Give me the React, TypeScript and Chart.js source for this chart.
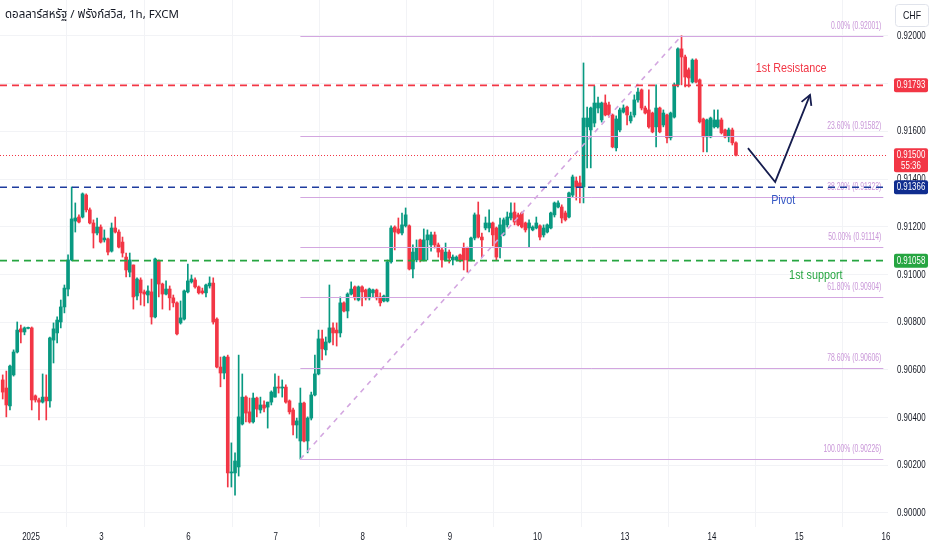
import React, { useEffect, useRef } from "react";
import { Chart, registerables } from "chart.js";
Chart.register(...registerables);

// ---------- data (hourly candles, USD/CHF) ----------
const opens = [
  0.90558,0.90524,0.90449,0.90579,0.90675,0.90772,0.90759,0.90774,0.90776,0.90491,
  0.90474,0.90465,0.90486,0.90470,0.90725,0.90755,0.90801,0.90864,0.90939,0.91061,
  0.91224,0.91241,0.91241,0.91333,0.91271,0.91216,0.91174,0.91199,0.91145,0.91149,
  0.91098,0.91195,0.91178,0.91136,0.91073,0.91010,0.91040,0.90910,0.90977,0.90927,
  0.90914,0.90927,0.90822,0.91057,0.90960,0.90918,0.90939,0.90902,0.90881,0.90797,
  0.90813,0.90927,0.90969,0.90977,0.90948,0.90931,0.90923,0.90952,0.90964,0.90813,
  0.90612,0.90587,0.90654,0.90168,0.90168,0.90193,0.90373,0.90486,0.90424,0.90382,
  0.90482,0.90432,0.90453,0.90444,0.90465,0.90486,0.90528,0.90524,0.90528,0.90470,
  0.90432,0.90369,0.90302,0.90461,0.90302,0.90398,0.90495,0.90583,0.90730,0.90684,
  0.90717,0.90776,0.90767,0.90755,0.90881,0.90847,0.90918,0.90948,0.90893,0.90948,
  0.90935,0.90902,0.90923,0.90935,0.90906,0.90889,0.90889,0.91053,0.91199,0.91191,
  0.91174,0.91204,0.91204,0.91023,0.91061,0.91145,0.91061,0.91145,0.91124,0.91166,
  0.91124,0.91103,0.91061,0.91094,0.91061,0.91061,0.91082,0.91111,0.91111,0.91061,
  0.91153,0.91250,0.91157,0.91195,0.91195,0.91216,0.91195,0.91115,0.91166,0.91208,
  0.91237,0.91262,0.91250,0.91258,0.91216,0.91195,0.91187,0.91195,0.91204,0.91166,
  0.91178,0.91195,0.91250,0.91283,0.91283,0.91258,0.91241,0.91333,0.91392,0.91384,
  0.91367,0.91619,0.91606,0.91635,0.91698,0.91648,0.91719,0.91711,0.91669,0.91531,
  0.91606,0.91681,0.91702,0.91644,0.91669,0.91732,0.91774,0.91698,0.91690,0.91677,
  0.91619,0.91698,0.91627,0.91669,0.91573,0.91660,0.91795,0.91946,0.91912,0.91858,
  0.91807,0.91899,0.91816,0.91652,0.91577,0.91577,0.91619,0.91619,0.91648,0.91606,
  0.91577,0.91606,0.91552,
];
const highs = [
  0.90579,0.90595,0.90620,0.90684,0.90801,0.90788,0.90780,0.90780,0.90780,0.90495,
  0.90482,0.90583,0.90579,0.90738,0.90797,0.90822,0.90893,0.90956,0.91082,0.91367,
  0.91300,0.91250,0.91342,0.91338,0.91279,0.91229,0.91237,0.91208,0.91187,0.91153,
  0.91216,0.91241,0.91187,0.91157,0.91090,0.91090,0.91040,0.90986,0.90986,0.90935,
  0.90952,0.90981,0.91069,0.91061,0.90964,0.90973,0.90952,0.90914,0.90885,0.90889,
  0.90935,0.91044,0.90998,0.90986,0.90952,0.90943,0.90960,0.90990,0.90986,0.90818,
  0.90654,0.90658,0.90662,0.90294,0.90252,0.90662,0.90583,0.90491,0.90482,0.90503,
  0.90486,0.90486,0.90470,0.90465,0.90512,0.90583,0.90574,0.90558,0.90537,0.90474,
  0.90440,0.90398,0.90524,0.90465,0.90403,0.90507,0.90662,0.90767,0.90767,0.90738,
  0.90956,0.90797,0.90797,0.90906,0.90885,0.90923,0.90969,0.90952,0.90952,0.90952,
  0.90939,0.90943,0.90939,0.90939,0.90923,0.90914,0.91061,0.91204,0.91204,0.91237,
  0.91258,0.91279,0.91208,0.91124,0.91145,0.91149,0.91191,0.91187,0.91178,0.91178,
  0.91132,0.91111,0.91132,0.91103,0.91082,0.91078,0.91086,0.91132,0.91115,0.91157,
  0.91258,0.91304,0.91174,0.91241,0.91271,0.91220,0.91199,0.91237,0.91237,0.91262,
  0.91300,0.91300,0.91258,0.91262,0.91220,0.91229,0.91204,0.91241,0.91208,0.91208,
  0.91212,0.91262,0.91304,0.91309,0.91292,0.91266,0.91346,0.91417,0.91409,0.91413,
  0.91887,0.91702,0.91702,0.91790,0.91744,0.91723,0.91753,0.91723,0.91673,0.91665,
  0.91698,0.91711,0.91706,0.91681,0.91753,0.91782,0.91778,0.91706,0.91774,0.91681,
  0.91795,0.91702,0.91690,0.91673,0.91681,0.91803,0.91950,0.92001,0.91920,0.91866,
  0.91904,0.91904,0.91820,0.91656,0.91652,0.91660,0.91690,0.91690,0.91656,0.91610,
  0.91614,0.91614,0.91556,
];
const lows = [
  0.90478,0.90403,0.90432,0.90574,0.90671,0.90713,0.90747,0.90772,0.90432,0.90465,
  0.90390,0.90461,0.90390,0.90444,0.90629,0.90713,0.90776,0.90839,0.90910,0.91057,
  0.91178,0.91216,0.91237,0.91262,0.91212,0.91111,0.91166,0.91132,0.91136,0.91082,
  0.91094,0.91174,0.91111,0.91073,0.90990,0.90990,0.90855,0.90893,0.90872,0.90868,
  0.90881,0.90792,0.90818,0.90906,0.90855,0.90914,0.90851,0.90864,0.90747,0.90792,
  0.90809,0.90923,0.90964,0.90943,0.90918,0.90918,0.90906,0.90943,0.90792,0.90608,
  0.90529,0.90562,0.90109,0.90109,0.90075,0.90155,0.90369,0.90382,0.90377,0.90377,
  0.90403,0.90419,0.90424,0.90356,0.90453,0.90486,0.90503,0.90486,0.90461,0.90415,
  0.90327,0.90314,0.90226,0.90298,0.90252,0.90390,0.90491,0.90579,0.90642,0.90662,
  0.90713,0.90705,0.90700,0.90738,0.90843,0.90818,0.90914,0.90893,0.90889,0.90868,
  0.90893,0.90893,0.90906,0.90893,0.90868,0.90885,0.90885,0.91048,0.91103,0.91170,
  0.91166,0.91199,0.91019,0.90986,0.91053,0.91053,0.91057,0.91061,0.91098,0.91111,
  0.91073,0.91031,0.91057,0.91048,0.91040,0.91057,0.91053,0.91019,0.91010,0.91057,
  0.91145,0.91153,0.91073,0.91187,0.91178,0.91120,0.91061,0.91069,0.91162,0.91199,
  0.91229,0.91208,0.91204,0.91195,0.91178,0.91115,0.91183,0.91191,0.91145,0.91157,
  0.91174,0.91191,0.91241,0.91279,0.91216,0.91224,0.91237,0.91325,0.91312,0.91300,
  0.91300,0.91447,0.91447,0.91619,0.91677,0.91639,0.91665,0.91660,0.91531,0.91518,
  0.91598,0.91677,0.91627,0.91635,0.91660,0.91723,0.91690,0.91673,0.91614,0.91594,
  0.91535,0.91594,0.91619,0.91552,0.91564,0.91656,0.91786,0.91795,0.91786,0.91786,
  0.91803,0.91803,0.91635,0.91514,0.91514,0.91573,0.91614,0.91614,0.91589,0.91573,
  0.91556,0.91543,0.91497,
];
const closes = [
  0.90507,0.90453,0.90616,0.90675,0.90767,0.90759,0.90776,0.90776,0.90474,0.90474,
  0.90465,0.90486,0.90470,0.90734,0.90772,0.90809,0.90864,0.90943,0.91061,0.91233,
  0.91237,0.91220,0.91338,0.91271,0.91216,0.91174,0.91199,0.91136,0.91153,0.91094,
  0.91195,0.91178,0.91115,0.91090,0.91019,0.91061,0.90906,0.90981,0.90923,0.90918,
  0.90931,0.90822,0.91065,0.90960,0.90918,0.90939,0.90902,0.90881,0.90751,0.90818,
  0.90931,0.90973,0.90981,0.90948,0.90923,0.90923,0.90956,0.90964,0.90801,0.90612,
  0.90587,0.90654,0.90168,0.90172,0.90218,0.90403,0.90486,0.90419,0.90382,0.90482,
  0.90436,0.90453,0.90440,0.90465,0.90507,0.90528,0.90524,0.90528,0.90465,0.90424,
  0.90369,0.90386,0.90461,0.90302,0.90398,0.90495,0.90583,0.90730,0.90688,0.90717,
  0.90776,0.90755,0.90755,0.90881,0.90847,0.90918,0.90939,0.90902,0.90948,0.90927,
  0.90902,0.90939,0.90935,0.90902,0.90881,0.90910,0.91053,0.91195,0.91178,0.91174,
  0.91208,0.91250,0.91023,0.91094,0.91111,0.91061,0.91145,0.91166,0.91166,0.91124,
  0.91094,0.91061,0.91094,0.91069,0.91073,0.91073,0.91061,0.91061,0.91061,0.91153,
  0.91250,0.91157,0.91145,0.91216,0.91216,0.91166,0.91073,0.91208,0.91229,0.91241,
  0.91258,0.91220,0.91208,0.91199,0.91187,0.91216,0.91199,0.91216,0.91157,0.91195,
  0.91208,0.91258,0.91300,0.91300,0.91237,0.91229,0.91342,0.91409,0.91367,0.91367,
  0.91656,0.91656,0.91698,0.91719,0.91719,0.91719,0.91669,0.91669,0.91535,0.91652,
  0.91690,0.91698,0.91669,0.91665,0.91732,0.91765,0.91698,0.91677,0.91619,0.91598,
  0.91698,0.91598,0.91677,0.91573,0.91677,0.91795,0.91946,0.91912,0.91828,0.91824,
  0.91899,0.91807,0.91640,0.91577,0.91648,0.91656,0.91648,0.91648,0.91594,0.91577,
  0.91606,0.91552,0.91500,
];

// time axis: bar index where each day label sits
const dayTickIndex = [7.8, 27.2, 51.2, 75.2, 99.2, 123.2, 147.3, 171.4, 195.4, 219.4, 243.3];
const dayTickLabels = ["2025", "3", "6", "7", "8", "9", "10", "13", "14", "15", "16"];
const priceTicks = [0.9, 0.902, 0.904, 0.906, 0.908, 0.91, 0.912, 0.914, 0.916, 0.918, 0.92];

// drawn levels
const resistancePrice = 0.91793;
const pivotPrice = 0.91366;
const supportPrice = 0.91058;
const lastPrice = 0.915;
const countdown = "55:36";

// fibonacci retracement
const fibRatios = ["0.00%", "23.60%", "38.20%", "50.00%", "61.80%", "78.60%", "100.00%"];
const fibPrices = [0.92001, 0.91582, 0.91323, 0.91114, 0.90904, 0.90606, 0.90226];
const fibFromIndex = 82;
const fibToIndex = 242.6;
const fibTrendIndex = [82, 187];
const fibTrendPrice = [0.90226, 0.92001];

// projected path arrow
const arrowIndex = [205.3, 212.8, 222.4];
const arrowPrice = [0.9153, 0.91388, 0.91753];

// annotation texts
const noteTexts = ["1st Resistance", "Pivot", "1st support"];
const noteIndex = [217.2, 215, 224];
const notePrice = [0.91866, 0.91312, 0.90998];

const title = "ดอลลาร์สหรัฐ / ฟรังก์สวิส, 1h, FXCM";
const currency = "CHF";

// ---------- styles ----------
const UP = "#089981";
const DOWN = "#f23645";
const PIVOT = "#1f3c9e";
const PIVOT_BOX = "#102d8f";
const SUPPORT = "#26a541";
const FIB = "#d3a6e0";
const FIB_TEXT = "#c996d8";
const ARROW = "#161d4f";
const GRID = "#f2f3f6";
const TEXT = "#131722";
const FONT = "'Liberation Sans', Arial, sans-serif";
const TITLE_FONT = "'Noto Sans Thai', 'Noto Sans', 'DejaVu Sans', sans-serif";
const SQUEEZE = 0.72;

const X_MIN = -0.744;
const X_MAX = 243.88;
const Y_MIN = 0.899413;
const Y_MAX = 0.921509;

function narrowText(ctx: any, t: string, x: number, y: number, align: string, sx: number) {
  ctx.save();
  ctx.translate(x, y);
  ctx.scale(sx, 1);
  ctx.textAlign = align;
  ctx.fillText(t, 0, 0);
  ctx.restore();
}

const overlay = {
  id: "overlay",
  afterDatasetsDraw(chart: any) {
    const { ctx, chartArea: a } = chart;
    const xs = chart.scales.x;
    const ys = chart.scales.y;
    const X = (v: number) => xs.getPixelForValue(v);
    const Y = (v: number) => ys.getPixelForValue(v);
    const hline = (x0: number, x1: number, yy: number, color: string, w: number, dash: number[]) => {
      ctx.beginPath();
      ctx.setLineDash(dash);
      ctx.strokeStyle = color;
      ctx.lineWidth = w;
      ctx.moveTo(x0, yy);
      ctx.lineTo(x1, yy);
      ctx.stroke();
      ctx.setLineDash([]);
    };
    ctx.save();
    ctx.beginPath();
    ctx.rect(a.left, a.top, a.right - a.left, a.bottom - a.top);
    ctx.clip();

    // last price dotted
    hline(a.left, a.right, Math.round(Y(lastPrice)) + 0.5, DOWN, 1, [1, 2]);

    // fib levels
    const fx0 = X(fibFromIndex);
    const fx1 = X(fibToIndex);
    ctx.font = `10px ${FONT}`;
    ctx.textBaseline = "middle";
    fibPrices.forEach((p, k) => {
      const yy = Math.round(Y(p)) + 0.5;
      hline(fx0, fx1, yy, FIB, 1, []);
      ctx.fillStyle = FIB_TEXT;
      narrowText(ctx, `${fibRatios[k]} (${p.toFixed(5)})`, fx1 - 2, yy - 10, "right", 0.68);
    });
    // fib trend line
    ctx.beginPath();
    ctx.setLineDash([5, 5]);
    ctx.strokeStyle = FIB;
    ctx.lineWidth = 1.6;
    ctx.moveTo(X(fibTrendIndex[0]), Y(fibTrendPrice[0]));
    ctx.lineTo(X(fibTrendIndex[1]), Y(fibTrendPrice[1]));
    ctx.stroke();
    ctx.setLineDash([]);

    // key levels
    hline(a.left, a.right, Y(resistancePrice), DOWN, 1.6, [7, 5]);
    hline(a.left, a.right, Y(pivotPrice), PIVOT, 1.6, [7, 5]);
    hline(a.left, a.right, Y(supportPrice), SUPPORT, 1.6, [7, 5]);

    // arrow path
    ctx.beginPath();
    ctx.strokeStyle = ARROW;
    ctx.lineWidth = 1.8;
    arrowIndex.forEach((v, k) => {
      const px = X(v);
      const py = Y(arrowPrice[k]);
      if (k === 0) ctx.moveTo(px, py);
      else ctx.lineTo(px, py);
    });
    ctx.stroke();
    const n = arrowIndex.length - 1;
    const tx = X(arrowIndex[n]);
    const ty = Y(arrowPrice[n]);
    const ang = Math.atan2(ty - Y(arrowPrice[n - 1]), tx - X(arrowIndex[n - 1]));
    ctx.beginPath();
    ctx.moveTo(tx + 11 * Math.cos(ang + Math.PI - 0.5), ty + 11 * Math.sin(ang + Math.PI - 0.5));
    ctx.lineTo(tx, ty);
    ctx.lineTo(tx + 11 * Math.cos(ang + Math.PI + 0.5), ty + 11 * Math.sin(ang + Math.PI + 0.5));
    ctx.stroke();

    // notes
    const noteColors = [DOWN, "#3558c4", SUPPORT];
    ctx.font = `13.5px ${FONT}`;
    ctx.textBaseline = "middle";
    noteTexts.forEach((t, k) => {
      ctx.fillStyle = noteColors[k];
      narrowText(ctx, t, X(noteIndex[k]), Y(notePrice[k]), "center", 0.8);
    });
    ctx.restore();
  },
  afterDraw(chart: any) {
    const { ctx, chartArea: a } = chart;
    const xs = chart.scales.x;
    const ys = chart.scales.y;
    ctx.save();
    ctx.fillStyle = TEXT;
    ctx.textBaseline = "middle";
    ctx.font = `11px ${FONT}`;
    // axis labels from the scales' own ticks
    ys.ticks.forEach((t: any) => {
      narrowText(ctx, Number(t.value).toFixed(5), a.right + 9, ys.getPixelForValue(t.value), "left", SQUEEZE);
    });
    xs.ticks.forEach((t: any, i: number) => {
      narrowText(ctx, dayTickLabels[i], xs.getPixelForValue(t.value), a.bottom + 10, "center", SQUEEZE);
    });

    const bx = a.right + 6;
    const bw = chart.width - 4 - bx;
    const box = (p: number, fill: string, extra?: string) => {
      const yy = ys.getPixelForValue(p);
      const h = extra ? 24 : 14;
      ctx.fillStyle = fill;
      ctx.beginPath();
      ctx.roundRect(bx, yy - 7, bw, h, 2);
      ctx.fill();
      ctx.fillStyle = "#ffffff";
      narrowText(ctx, p.toFixed(5), bx + bw / 2, yy, "center", SQUEEZE);
      if (extra) narrowText(ctx, extra, bx + bw / 2, yy + 11, "center", SQUEEZE);
    };
    box(resistancePrice, DOWN);
    box(lastPrice, DOWN, countdown);
    box(pivotPrice, PIVOT_BOX);
    box(supportPrice, SUPPORT);

    // currency button
    ctx.fillStyle = "#ffffff";
    ctx.strokeStyle = "#e0e3eb";
    ctx.lineWidth = 1;
    ctx.beginPath();
    ctx.roundRect(bx + 1.5, 4.5, bw - 1, 22, 3);
    ctx.fill();
    ctx.stroke();
    ctx.fillStyle = TEXT;
    narrowText(ctx, currency, bx + bw / 2 + 1, 15.5, "center", 0.8);

    // title
    ctx.font = `11.5px ${TITLE_FONT}`;
    ctx.textAlign = "left";
    ctx.fillStyle = TEXT;
    ctx.fillText(title, 5, 16);
    ctx.restore();
  },
};

export default function App() {
  const ref = useRef<HTMLCanvasElement>(null);
  useEffect(() => {
    document.body.style.margin = "0";
    const idx = opens.map((_, i) => i);
    const colors = idx.map((i) => (closes[i] >= opens[i] ? UP : DOWN));
    const chart = new Chart(ref.current as HTMLCanvasElement, {
      type: "bar",
      data: {
        datasets: [
          {
            label: "wick",
            data: idx.map((i) => ({ x: i, y: [lows[i], highs[i]] })) as any,
            backgroundColor: colors,
            barThickness: 1,
            grouped: false,
            borderWidth: 0,
            order: 2,
          },
          {
            label: "body",
            data: idx.map((i) => ({ x: i, y: [opens[i], closes[i]] })) as any,
            backgroundColor: colors,
            barThickness: 3,
            minBarLength: 1,
            grouped: false,
            borderWidth: 0,
            order: 1,
          },
        ],
      },
      options: {
        responsive: false,
        animation: false,
        events: [],
        layout: { padding: 0 },
        plugins: { legend: { display: false }, tooltip: { enabled: false } },
        scales: {
          x: {
            type: "linear",
            min: X_MIN,
            max: X_MAX,
            offset: false,
            afterBuildTicks: (s: any) => {
              s.ticks = dayTickIndex.map((v) => ({ value: v }));
            },
            afterFit: (s: any) => {
              s.height = 23;
              s.paddingLeft = 0;
              s.paddingRight = 0;
              s.paddingTop = 0;
              s.paddingBottom = 0;
            },
            ticks: { display: false },
            grid: { color: GRID, drawTicks: false },
            border: { display: false },
          },
          y: {
            position: "right",
            min: Y_MIN,
            max: Y_MAX,
            afterBuildTicks: (s: any) => {
              s.ticks = priceTicks.map((v) => ({ value: v }));
            },
            afterFit: (s: any) => {
              s.width = 44;
              s.paddingLeft = 0;
              s.paddingRight = 0;
              s.paddingTop = 0;
              s.paddingBottom = 0;
            },
            ticks: { display: false },
            grid: { color: GRID, drawTicks: false },
            border: { display: false },
          },
        },
      } as any,
      plugins: [overlay],
    });
    return () => chart.destroy();
  }, []);
  return (
    <div style={{ width: 932, height: 550, background: "#ffffff" }}>
      <canvas ref={ref} width={932} height={550} style={{ display: "block", width: 932, height: 550 }} />
    </div>
  );
}
